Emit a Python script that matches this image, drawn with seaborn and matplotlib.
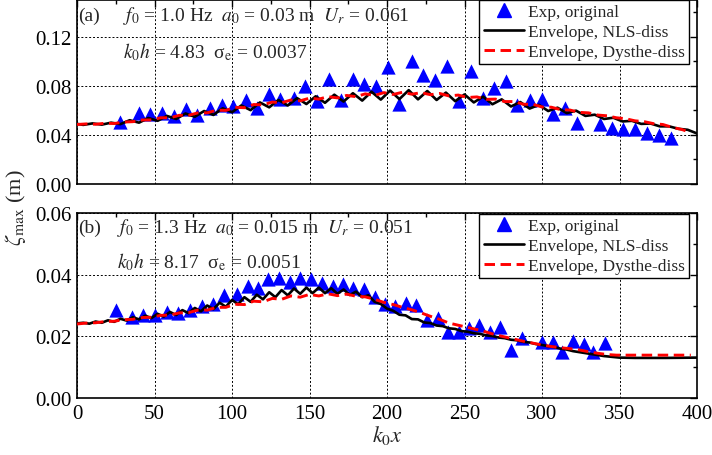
import matplotlib
matplotlib.use("Agg")
import matplotlib.pyplot as plt
import seaborn as sns
import pandas as pd
from matplotlib.ticker import MultipleLocator, FormatStrFormatter
from matplotlib.lines import Line2D

# ---------------- data: panel (a) ----------------
exp_a_x = [27.7, 40.0, 47.1, 54.6, 62.8, 70.1, 77.6, 85.8, 93.4, 100.8, 109.0, 115.9,
           123.9, 131.0, 140.2, 147.1, 154.6, 162.8, 170.3, 177.9, 185.2, 192.7, 200.8,
           207.9, 215.9, 223.0, 231.0, 238.5, 246.5, 254.0, 261.7, 269.2, 276.8, 284.1,
           292.3, 299.8, 307.3, 314.8, 322.8, 337.4, 345.0, 352.5, 360.0, 367.5, 375.7, 383.2]
exp_a_y = [0.0502, 0.0579, 0.0570, 0.0579, 0.0551, 0.0612, 0.0564, 0.0620, 0.0647, 0.0639,
           0.0688, 0.0620, 0.0736, 0.0697, 0.0702, 0.0799, 0.0675, 0.0854, 0.0688, 0.0854,
           0.0818, 0.0799, 0.0950, 0.0653, 0.1000, 0.0890, 0.0845, 0.0964, 0.0680, 0.0923,
           0.0702, 0.0779, 0.0840, 0.0642, 0.0688, 0.0697, 0.0570, 0.0620, 0.0496, 0.0488,
           0.0455, 0.0446, 0.0449, 0.0413, 0.0399, 0.0378]

nls_a_x = [0, 4, 10, 16, 22, 28, 34, 40, 46, 52, 58, 64, 70, 76, 82, 88, 94, 100, 106, 112,
           118, 124, 130, 136, 142, 148, 154, 160, 166, 172, 178, 184, 190, 196, 202, 208,
           214, 220, 226, 232, 238, 244, 250, 256, 262, 268, 274, 280, 286, 292, 298, 304,
           310, 316, 322, 328, 334, 340, 346, 352, 358, 364, 370, 376, 382, 388, 394, 400]
nls_a_y = [0.0490, 0.0482, 0.0494, 0.0484, 0.0500, 0.0488, 0.0520, 0.0500, 0.0538, 0.0515,
           0.0555, 0.0530, 0.0575, 0.0548, 0.0595, 0.0563, 0.0617, 0.0585, 0.0640, 0.0602,
           0.0665, 0.0625, 0.0685, 0.0640, 0.0700, 0.0652, 0.0715, 0.0662, 0.0728, 0.0672,
           0.0740, 0.0680, 0.0752, 0.0688, 0.0762, 0.0692, 0.0765, 0.0690, 0.0758, 0.0685,
           0.0745, 0.0675, 0.0730, 0.0665, 0.0712, 0.0650, 0.0690, 0.0632, 0.0668, 0.0615,
           0.0645, 0.0595, 0.0622, 0.0578, 0.0598, 0.0555, 0.0565, 0.0530, 0.0540, 0.0510,
           0.0515, 0.0490, 0.0493, 0.0470, 0.0470, 0.0450, 0.0442, 0.0412]

dys_a_x = [0, 6, 12, 18, 24, 30, 36, 42, 48, 54, 60, 66, 72, 78, 84, 90, 96, 102, 108, 114,
           120, 126, 132, 138, 144, 150, 156, 162, 168, 174, 180, 186, 192, 198, 204, 210,
           216, 222, 228, 234, 240, 246, 252, 258, 264, 270, 276, 282, 288, 294, 300, 306,
           312, 318, 324, 330, 336, 342, 348, 354, 360, 366, 372, 378, 384, 390, 396]
dys_a_y = [0.0485, 0.0490, 0.0487, 0.0495, 0.0493, 0.0505, 0.0508, 0.0522, 0.0522, 0.0540,
           0.0540, 0.0560, 0.0560, 0.0580, 0.0580, 0.0602, 0.0600, 0.0625, 0.0622, 0.0648,
           0.0645, 0.0668, 0.0662, 0.0685, 0.0678, 0.0700, 0.0692, 0.0712, 0.0702, 0.0722,
           0.0712, 0.0735, 0.0722, 0.0745, 0.0730, 0.0748, 0.0732, 0.0745, 0.0728, 0.0738,
           0.0718, 0.0725, 0.0705, 0.0710, 0.0690, 0.0692, 0.0672, 0.0672, 0.0650, 0.0650,
           0.0628, 0.0626, 0.0606, 0.0603, 0.0584, 0.0580, 0.0562, 0.0556, 0.0540, 0.0532,
           0.0515, 0.0508, 0.0492, 0.0485, 0.0462, 0.0445, 0.0420]

# ---------------- data: panel (b) ----------------
exp_b_x = [25.2, 35.3, 42.8, 50.3, 57.9, 65.4, 72.9, 80.4, 88.0, 95.0, 103.0, 110.0, 117.0,
           123.4, 130.5, 137.4, 143.9, 150.8, 157.9, 165.0, 171.8, 178.3, 185.2, 192.3,
           198.7, 205.0, 212.3, 219.0, 225.6, 233.0, 239.6, 246.5, 253.0, 259.6, 266.5,
           273.0, 280.0, 286.9, 299.8, 307.0, 312.7, 319.8, 327.0, 333.0, 340.6]
exp_b_y = [0.0286, 0.0262, 0.0270, 0.0270, 0.0278, 0.0275, 0.0286, 0.0297, 0.0305, 0.0333,
           0.0338, 0.0363, 0.0357, 0.0385, 0.0388, 0.0377, 0.0390, 0.0385, 0.0374, 0.0363,
           0.0370, 0.0357, 0.0352, 0.0327, 0.0305, 0.0297, 0.0308, 0.0301, 0.0253, 0.0259,
           0.0215, 0.0213, 0.0226, 0.0237, 0.0215, 0.0229, 0.0157, 0.0193, 0.0183, 0.0183,
           0.0150, 0.0185, 0.0174, 0.0150, 0.0179]

nls_b_x = [0, 4, 8, 12, 16, 20, 24, 28, 32, 36, 40, 44, 48, 52, 56, 60, 64, 68, 72, 76, 80,
           84, 88, 92, 96, 100, 104, 108, 112, 116, 120, 124, 128, 132, 136, 140, 144, 148,
           152, 156, 160, 164, 168, 172, 176, 180, 184, 188, 192, 196, 200, 204, 208, 212,
           216, 220, 224, 228, 232, 236, 240, 244, 248, 252, 256, 260, 264, 268, 272, 276,
           280, 284, 288, 292, 296, 300, 304, 308, 312, 316, 320, 330, 340, 350, 360, 380, 400]
nls_b_y = [0.0242, 0.0244, 0.0241, 0.0248, 0.0244, 0.0252, 0.0247, 0.0257, 0.0251, 0.0262,
           0.0255, 0.0267, 0.0259, 0.0273, 0.0264, 0.0279, 0.0269, 0.0285, 0.0275, 0.0292,
           0.0281, 0.0300, 0.0288, 0.0309, 0.0296, 0.0318, 0.0304, 0.0327, 0.0312, 0.0335,
           0.0320, 0.0343, 0.0327, 0.0350, 0.0333, 0.0355, 0.0338, 0.0358, 0.0340, 0.0358,
           0.0340, 0.0356, 0.0338, 0.0352, 0.0334, 0.0345, 0.0327, 0.0333, 0.0312, 0.0305,
           0.0290, 0.0283, 0.0270, 0.0268, 0.0256, 0.0255, 0.0245, 0.0243, 0.0235, 0.0233,
           0.0226, 0.0224, 0.0217, 0.0215, 0.0210, 0.0208, 0.0203, 0.0201, 0.0196, 0.0194,
           0.0189, 0.0187, 0.0182, 0.0180, 0.0175, 0.0172, 0.0168, 0.0165, 0.0160, 0.0157,
           0.0152, 0.0144, 0.0136, 0.0131, 0.0130, 0.0130, 0.0131]

dys_b_x = [0, 6, 12, 18, 24, 30, 36, 42, 48, 54, 60, 66, 72, 78, 84, 90, 96, 102, 108, 114,
           120, 126, 132, 138, 144, 150, 156, 162, 168, 174, 180, 186, 192, 198, 204, 210,
           216, 222, 228, 234, 240, 246, 252, 258, 264, 270, 276, 282, 288, 294, 300, 306,
           312, 318, 324, 330, 336, 342, 348, 354, 360, 366, 372, 378, 384, 390, 396]
dys_b_y = [0.0240, 0.0243, 0.0244, 0.0248, 0.0249, 0.0254, 0.0255, 0.0261, 0.0262, 0.0268,
           0.0269, 0.0276, 0.0277, 0.0285, 0.0285, 0.0294, 0.0294, 0.0304, 0.0303, 0.0314,
           0.0312, 0.0323, 0.0320, 0.0331, 0.0327, 0.0336, 0.0331, 0.0338, 0.0332, 0.0337,
           0.0330, 0.0328, 0.0320, 0.0310, 0.0303, 0.0294, 0.0286, 0.0276, 0.0265, 0.0255,
           0.0243, 0.0236, 0.0229, 0.0222, 0.0214, 0.0205, 0.0198, 0.0191, 0.0184, 0.0178,
           0.0172, 0.0167, 0.0163, 0.0160, 0.0156, 0.0150, 0.0145, 0.0141, 0.0139, 0.0139,
           0.0139, 0.0139, 0.0139, 0.0139, 0.0139, 0.0139, 0.0139]

x_ticks = [0, 50, 100, 150, 200, 250, 300, 350, 400]
legend_labels = ["Exp, original", "Envelope, NLS-diss", "Envelope, Dysthe-diss"]

# ---------------- style ----------------
sns.set_style("white")
plt.rcParams["font.family"] = ["Liberation Serif", "DejaVu Serif"]
plt.rcParams["mathtext.fontset"] = "stix"
plt.rcParams["axes.edgecolor"] = "black"

W, H = 712, 456
fig = plt.figure(figsize=(W / 100, H / 100), dpi=100)
L, R = 77, 697
ax1 = fig.add_axes([L / W, 1 - 185 / H, (R - L) / W, 184 / H])
ax2 = fig.add_axes([L / W, 1 - 399 / H, (R - L) / W, 185 / H])

BLUE = "#0000FF"
DASH = (0, (3.6, 1.9))


def draw(ax, ex, ey, nx, ny, dx, dy):
    sns.scatterplot(x=ex, y=ey, marker="^", s=105, color=BLUE, linewidth=0,
                    ax=ax, zorder=3, legend=False)
    sns.lineplot(x=nx, y=ny, sort=False, estimator=None, color="black", lw=1.9,
                 ax=ax, zorder=4, legend=False)
    sns.lineplot(x=dx, y=dy, sort=False, estimator=None, color="red", lw=2.1,
                 linestyle=DASH, ax=ax, zorder=5, legend=False)


draw(ax1, exp_a_x, exp_a_y, nls_a_x, nls_a_y, dys_a_x, dys_a_y)
draw(ax2, exp_b_x, exp_b_y, nls_b_x, nls_b_y, dys_b_x, dys_b_y)

for ax in (ax1, ax2):
    ax.set_xlim(0, 400)
    ax.set_xticks(x_ticks)
    ax.xaxis.set_minor_locator(MultipleLocator(25))
    ax.yaxis.set_major_formatter(FormatStrFormatter("%.2f"))
    ax.tick_params(which="both", direction="in", top=True, right=True,
                   labelsize=15, width=1.0, colors="black", pad=4)
    ax.tick_params(which="major", length=5)
    ax.tick_params(which="minor", length=3)
    ax.grid(True, which="major", color="black", linestyle=(0, (2, 2)), lw=0.7)
    ax.set_axisbelow(True)
    for s in ax.spines.values():
        s.set_linewidth(1.2)
        s.set_color("black")
    ax.set_xlabel("")
    ax.set_ylabel("")

ax1.set_ylim(0, 0.15)
ax1.set_yticks([0.0, 0.04, 0.08, 0.12])
ax1.yaxis.set_minor_locator(MultipleLocator(0.02))
ax1.tick_params(labelbottom=False)

ax2.set_ylim(0, 0.06)
ax2.set_yticks([0.0, 0.02, 0.04, 0.06])
ax2.yaxis.set_minor_locator(MultipleLocator(0.01))
ax2.set_xlabel("$k_0x$", fontsize=16, labelpad=0)

handles = [
    Line2D([], [], marker="^", color=BLUE, ls="none", markersize=10.5),
    Line2D([], [], color="black", lw=1.9),
    Line2D([], [], color="red", lw=2.1, linestyle=DASH),
]
for ax, top in ((ax1, 1.0), (ax2, 0.995)):
    leg = ax.legend(handles, legend_labels, loc="upper right",
                    bbox_to_anchor=((689 - L) / (R - L), top), fontsize=12.5,
                    frameon=True, fancybox=False, edgecolor="black", framealpha=1,
                    borderaxespad=0, handlelength=2.35, handletextpad=0.2,
                    labelspacing=0.2, borderpad=0.25)
    leg.get_frame().set_linewidth(1.0)
    leg.set_zorder(10)


def ftext(px, py, s, **kw):
    fig.text(px / W, 1 - py / H, s, va="baseline", ha="left", fontsize=14, **kw)


ftext(78, 21, "(a)")
ftext(123, 21, "$f_0$ = 1.0 Hz  $a_0$ = 0.03 m  $U_r$ = 0.061")
ftext(123, 58, "$k_0h$ = 4.83  σ$_\\mathrm{e}$ = 0.0037")
ftext(78, 233, "(b)")
ftext(117, 233, "$f_0$ = 1.3 Hz  $a_0$ = 0.015 m  $U_r$ = 0.051")
ftext(117, 268, "$k_0h$ = 8.17  σ$_\\mathrm{e}$ = 0.0051")

fig.text(15 / W, 1 - 208 / H, "$\\zeta_\\mathrm{max}$ (m)", rotation=90,
         va="center", ha="center", fontsize=16)

fig.savefig("out.png", dpi=100)
